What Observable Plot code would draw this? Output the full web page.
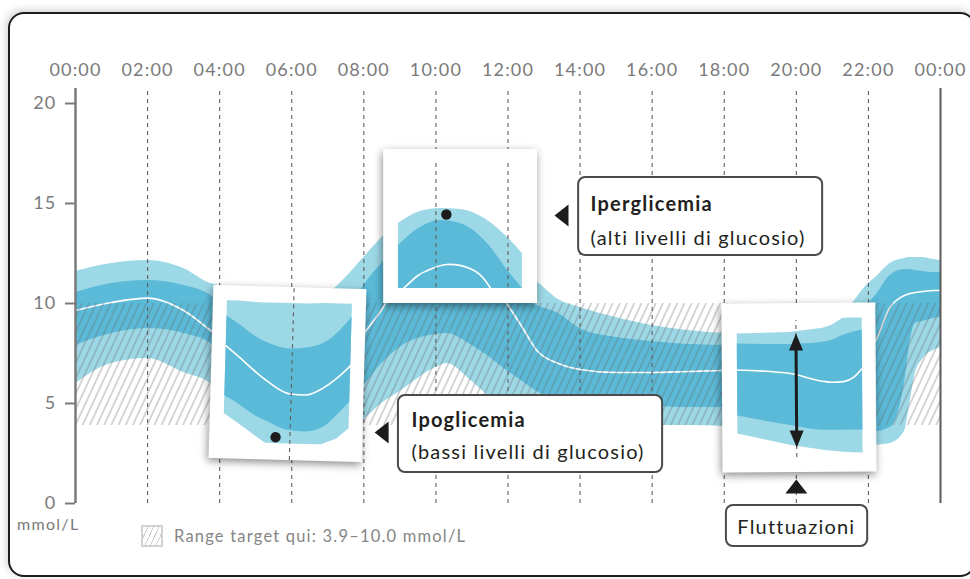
<!DOCTYPE html>
<html>
<head>
<meta charset="utf-8">
<script src="https://cdn.jsdelivr.net/npm/d3@7"></script>
<script src="https://cdn.jsdelivr.net/npm/@observablehq/plot@0.6"></script>
<style>
  html, body { margin: 0; padding: 0; background: #fff; }
  body { width: 970px; height: 579px; position: relative; overflow: hidden; font-family: Lato, "Open Sans", sans-serif; }
  #frame { position: absolute; left: 8px; top: 12px; width: 968px; height: 565px; box-sizing: border-box;
           border: 2.5px solid #1d1d1d; border-radius: 16px; background: #fff;
           box-shadow: -2px -2px 8px rgba(0,0,0,0.18); z-index: 0; }
  #chart { position: absolute; left: 0; top: 0; z-index: 1; }
  #chart svg { display: block; }
  #unit { position: absolute; left: 17px; top: 514px; font-size: 16px; line-height: 20px; color: #7a7a7a; letter-spacing: 1.3px; z-index: 2; }
  #legend { position: absolute; left: 141px; top: 525px; height: 22px; display: flex; align-items: center; gap: 11px;
            color: #858585; font-size: 16.5px; letter-spacing: 1.2px; z-index: 2; }
  #legend .sw { width: 18px; height: 18px; border: 2px solid #d2d2d2;
                background: repeating-linear-gradient(115deg, #fff 0 4px, #cfcfcf 4px 5px); }
</style>
</head>
<body>
<div id="frame"></div>
<div id="chart"></div>
<div id="unit"></div>
<div id="legend"><span class="sw"></span><span id="legend-text"></span></div>
<script>
// ---------- axes ----------
const tickHours = [0, 2, 4, 6, 8, 10, 12, 14, 16, 18, 20, 22, 24];
const tickLabels = ["00:00", "02:00", "04:00", "06:00", "08:00", "10:00", "12:00", "14:00", "16:00", "18:00", "20:00", "22:00", "00:00"];
const gridHours = [2, 4, 6, 8, 10, 12, 14, 16, 18, 20, 22];
const yTicks = [0, 5, 10, 15, 20];
const yUnit = "mmol/L";
const axisTop = 20.75;
const legendLabel = "Range target qui: 3.9–10.0 mmol/L";
const target = [{from: 3.9, to: 10.0, start: 0, end: 24}];

// ---------- glucose profile (percentiles, mmol/L) ----------
const hours = [0, 1, 2, 3, 3.75, 4, 5, 6, 7, 7.5, 8, 8.5, 9, 10, 10.3, 11, 11.5, 12, 12.4, 12.8, 13.4, 14, 15, 16, 17, 18, 19, 20, 21, 21.5, 22, 22.2, 22.6, 23, 23.15, 23.3, 23.5, 23.8, 24];
const p95 = [11.6, 12.0, 12.15, 11.75, 11.0, 10.9, 10.3, 10.0, 10.5, 11.3, 12.3, 13.3, 14.2, 14.8, 14.8, 14.3, 13.4, 12.4, 11.6, 11.1, 10.2, 9.8, 9.3, 8.9, 8.65, 8.5, 8.4, 8.5, 9.2, 9.9, 11.0, 11.3, 12.0, 12.25, 12.3, 12.3, 12.3, 12.2, 12.15];
const p75 = [10.55, 11.0, 11.15, 10.9, 10.4, 10.0, 8.6, 7.9, 8.4, 9.4, 10.9, 12.0, 12.9, 13.5, 13.5, 12.9, 12.0, 11.0, 10.3, 9.9, 9.5, 8.75, 8.3, 8.1, 7.95, 7.9, 7.8, 7.9, 8.3, 9.0, 10.0, 10.4, 11.4, 11.7, 11.7, 11.65, 11.6, 11.55, 11.55];
const p50 = [9.65, 10.05, 10.27, 9.65, 8.65, 8.3, 6.8, 6.0, 6.5, 7.3, 8.5, 9.7, 11.2, 12.4, 12.4, 11.9, 11.0, 9.9, 8.8, 7.65, 7.0, 6.7, 6.55, 6.55, 6.6, 6.65, 6.5, 6.3, 6.3, 6.7, 7.6, 8.15, 9.8, 10.4, 10.5, 10.55, 10.6, 10.65, 10.65];
const p25 = [7.9, 8.5, 8.75, 8.5, 8.0, 7.6, 5.6, 4.5, 4.8, 5.2, 5.9, 7.0, 7.8, 8.45, 8.5, 7.9, 7.3, 6.6, 6.1, 5.6, 5.2, 5.0, 4.9, 4.85, 4.8, 4.8, 4.5, 4.2, 4.0, 3.9, 3.7, 3.6, 3.8, 6.0, 8.0, 9.0, 9.1, 9.25, 9.3];
const p5 = [6.0, 7.0, 7.25, 6.55, 6.0, 5.6, 4.0, 3.2, 3.3, 3.7, 4.2, 5.0, 5.6, 6.8, 7.0, 6.1, 5.3, 4.6, 4.3, 4.1, 4.0, 3.95, 3.9, 3.9, 3.9, 3.85, 3.3, 2.9, 2.7, 2.7, 2.8, 2.9, 3.0, 3.6, 5.0, 6.5, 7.2, 7.65, 7.8];

// ---------- magnified insets ----------
const hypoHours = [4.16, 4.5, 5.04, 5.32, 5.97, 6.4, 6.88, 7.3, 7.63];
const hypoP95 = [10.05, 10.05, 10.0, 10.0, 10.0, 10.0, 10.05, 10.05, 10.05];
const hypoP75 = [9.3, 8.9, 8.23, 8.0, 7.73, 7.8, 8.07, 8.7, 9.4];
const hypoP50 = [7.8, 7.3, 6.48, 6.1, 5.48, 5.45, 5.82, 6.4, 6.98];
const hypoP25 = [5.3, 4.95, 4.32, 4.1, 3.65, 3.6, 3.82, 4.5, 5.15];
const hypoP5 = [4.4, 4.0, 3.33, 2.98, 2.98, 2.98, 2.98, 3.3, 3.82];

const hyperHours = [8.96, 9.57, 10.13, 10.68, 11.43, 11.99, 12.4];
const hyperP95 = [14.0, 14.6, 14.75, 14.7, 14.15, 13.3, 12.5];
const hyperP75 = [12.9, 13.8, 14.15, 14.0, 13.0, 11.65, 10.75];
const hyperFloor = 10.75;
const hyperMedHours = [9.1, 9.5, 9.77, 10.3, 10.94, 11.3, 11.52];
const hyperP50 = [10.75, 11.4, 11.65, 11.95, 11.75, 11.3, 10.75];

const fluttHours = [18.37, 19.84, 20.75, 21.0, 21.31, 21.6, 21.84];
const fluttP95 = [8.5, 8.55, 8.75, 8.9, 9.25, 9.25, 9.25];
const fluttP75 = [8.0, 7.95, 8.05, 8.15, 8.4, 8.55, 8.65];
const fluttP50 = [6.7, 6.5, 6.1, 6.05, 6.08, 6.3, 6.75];
const fluttP25 = [4.4, 3.9, 3.65, 3.65, 3.65, 3.65, 3.65];
const fluttP5 = [3.5, 2.9, 2.65, 2.6, 2.55, 2.52, 2.5];

const insetFrames = [
  {id: "hypo", h1: 3.77, h2: 8.02, v1: 2.15, v2: 10.8, tilt: 1.6},
  {id: "hyper", h1: 8.55, h2: 12.82, v1: 10.0, v2: 17.7, tilt: 0},
  {id: "flutt", h1: 17.95, h2: 22.22, v1: 1.55, v2: 10.0, tilt: -0.4}
];
const insetGrid = [
  {id: "hypo", h: 6, v1: 2.15, v2: 10.8},
  {id: "hyper", h: 10, v1: 10.8, v2: 17.0},
  {id: "hyper", h: 12, v1: 10.8, v2: 17.0},
  {id: "flutt", h: 20, v1: 2.3, v2: 9.15}
];
const extremes = [
  {id: "hypo", h: 5.6, v: 3.3},
  {id: "hyper", h: 10.29, v: 14.45}
];
const spread = {h: 20, top: 8.5, bottom: 2.8};

// ---------- callouts ----------
const callouts = [
  {title: "Iperglicemia", note: "(alti livelli di glucosio)", h1: 13.96, h2: 20.73, v1: 12.4, v2: 16.3, th: 14.29, tv: 14.65, nv: 12.95, ph: 13.29, pv: 14.4, dir: -90},
  {title: "Ipoglicemia", note: "(bassi livelli di glucosio)", h1: 8.96, h2: 16.29, v1: 1.55, v2: 5.4, th: 9.32, tv: 3.82, nv: 2.25, ph: 8.3, pv: 3.55, dir: -90}
];
const fluttCallout = [{label: "Fluttuazioni", h1: 18.06, h2: 21.98, v1: -2.15, v2: -0.1, th: 20.0, tv: -1.5, ph: 20.0, pv: 1.2, dir: 0}];

// ---------- build tables ----------
const profile = hours.map((h, i) => ({h, p5: p5[i], p25: p25[i], p50: p50[i], p75: p75[i], p95: p95[i]}));
const hypo = hypoHours.map((h, i) => ({h, p5: hypoP5[i], p25: hypoP25[i], p50: hypoP50[i], p75: hypoP75[i], p95: hypoP95[i]}));
const hyper = hyperHours.map((h, i) => ({h, lo: hyperFloor, p75: hyperP75[i], p95: hyperP95[i]}));
const hyperMed = hyperMedHours.map((h, i) => ({h, p50: hyperP50[i]}));
const flutt = fluttHours.map((h, i) => ({h, p5: fluttP5[i], p25: fluttP25[i], p50: fluttP50[i], p75: fluttP75[i], p95: fluttP95[i]}));

const light = "#9dd8e6", dark = "#5bbad8", ink = "#1c1c1c", gridC = "#5f5f5f";

// custom triangle symbols: tip at origin, pointing up
const pointer = {draw(ctx) { ctx.moveTo(0, 0); ctx.lineTo(11, 14); ctx.lineTo(-11, 14); ctx.closePath(); }};
const arrowHead = {draw(ctx) { ctx.moveTo(0, 0); ctx.lineTo(7, 17); ctx.lineTo(-7, 17); ctx.closePath(); }};

function insetMarks(id, table, opts) {
  const cls = id + "-part";
  const frame = insetFrames.filter(d => d.id === id);
  const marks = [
    Plot.rect(frame, {x1: "h1", x2: "h2", y1: "v1", y2: "v2", fill: "white", className: id + "-frame"})
  ];
  if (opts.full) {
    marks.push(Plot.areaY(table, {x: "h", y1: "p5", y2: "p95", fill: light, curve: "linear", className: cls}));
    marks.push(Plot.areaY(table, {x: "h", y1: "p25", y2: "p75", fill: dark, curve: "monotone-x", className: cls}));
    marks.push(Plot.lineY(table, {x: "h", y: "p50", stroke: "white", strokeWidth: 1.6, curve: "monotone-x", className: cls}));
  } else {
    marks.push(Plot.areaY(table, {x: "h", y1: "lo", y2: "p95", fill: light, curve: "monotone-x", className: cls}));
    marks.push(Plot.areaY(table, {x: "h", y1: "lo", y2: "p75", fill: dark, curve: "monotone-x", className: cls}));
    marks.push(Plot.lineY(hyperMed, {x: "h", y: "p50", stroke: "white", strokeWidth: 1.6, curve: "natural", className: cls}));
  }
  marks.push(Plot.ruleX(insetGrid.filter(d => d.id === id), {x: "h", y1: "v1", y2: "v2", stroke: gridC, strokeWidth: 1.1, strokeDasharray: "4,4", className: cls}));
  const ex = extremes.filter(d => d.id === id);
  if (ex.length) marks.push(Plot.dot(ex, {x: "h", y: "v", r: 5.2, fill: ink, stroke: "none", className: cls}));
  return marks;
}

const chart = Plot.plot({
  width: 970,
  height: 579,
  marginLeft: 75,
  marginRight: 30,
  marginTop: 103,
  marginBottom: 76,
  x: {domain: [0, 24]},
  y: {domain: [0, 20]},
  style: {background: "transparent", fontFamily: "Lato, 'Open Sans', sans-serif", letterSpacing: "1.2px", overflow: "visible"},
  marks: [
    // main profile
    Plot.areaY(profile, {x: "h", y1: "p5", y2: "p95", fill: light, curve: "monotone-x"}),
    Plot.areaY(profile, {x: "h", y1: "p25", y2: "p75", fill: dark, curve: "monotone-x"}),
    Plot.lineY(profile, {x: "h", y: "p50", stroke: "white", strokeWidth: 1.6, curve: "monotone-x"}),
    // target range hatching
    Plot.rect(target, {x1: "start", x2: "end", y1: "from", y2: "to", fill: "url(#hatch)"}),
    // grid & axes
    Plot.ruleX(gridHours, {y1: () => 0, y2: () => axisTop, stroke: gridC, strokeWidth: 1.1, strokeDasharray: "4,4"}),
    Plot.ruleX([tickHours[0]], {y1: () => 0, y2: () => axisTop, stroke: "#7a7a7a", strokeWidth: 2.5}),
    Plot.ruleX([tickHours[tickHours.length - 1]], {y1: () => 0, y2: () => axisTop, stroke: "#5a5a5a", strokeWidth: 2}),
    Plot.axisY({ticks: yTicks, tickSize: 10, tickPadding: 9, fontSize: 18, color: "#7a7a7a", strokeWidth: 2, tickFormat: d => String(d), label: null}),
    Plot.axisX({anchor: "top", ticks: tickHours, tickSize: 0, tickPadding: 28, fontSize: 18, color: "#7a7a7a",
                tickFormat: d => tickLabels[tickHours.indexOf(d)], label: null}),
    // insets
    ...insetMarks("hypo", hypo, {full: true}),
    ...insetMarks("hyper", hyper, {full: false}),
    ...insetMarks("flutt", flutt, {full: true}),
    // spread arrow inside fluctuation inset
    Plot.ruleX([spread], {x: "h", y1: d => d.top - 0.6, y2: d => d.bottom + 0.6, stroke: ink, strokeWidth: 3, className: "flutt-part"}),
    Plot.dot([spread], {x: "h", y: "top", symbol: arrowHead, fill: ink, stroke: "none", className: "flutt-part"}),
    Plot.dot([spread], {x: "h", y: "bottom", symbol: arrowHead, rotate: 180, fill: ink, stroke: "none", className: "flutt-part"}),
    // callouts
    Plot.rect(callouts, {x1: "h1", x2: "h2", y1: "v1", y2: "v2", fill: "white", stroke: "#4a4a4a", strokeWidth: 2, rx: 7}),
    Plot.rect(fluttCallout, {x1: "h1", x2: "h2", y1: "v1", y2: "v2", fill: "white", stroke: "#4a4a4a", strokeWidth: 2, rx: 7}),
    Plot.dot(callouts, {x: "ph", y: "pv", symbol: pointer, rotate: "dir", fill: ink, stroke: "none"}),
    Plot.dot(fluttCallout, {x: "ph", y: "pv", symbol: pointer, rotate: "dir", fill: ink, stroke: "none"}),
    Plot.text(callouts, {x: "th", y: "tv", text: "title", textAnchor: "start", lineAnchor: "bottom", fontSize: 20, fontWeight: "bold", fill: "#231f20"}),
    Plot.text(callouts, {x: "th", y: "nv", text: "note", textAnchor: "start", lineAnchor: "bottom", fontSize: 20, fill: "#231f20"}),
    Plot.text(fluttCallout, {x: "th", y: "tv", text: "label", textAnchor: "middle", lineAnchor: "bottom", fontSize: 20, fill: "#231f20"})
  ]
});

// hatch pattern
const svgNS = "http://www.w3.org/2000/svg";
const defs = document.createElementNS(svgNS, "defs");
defs.innerHTML = '<pattern id="hatch" patternUnits="userSpaceOnUse" width="6.5" height="12" patternTransform="rotate(25)">' +
  '<line x1="1" y1="0" x2="1" y2="12" stroke="#6a6a6a" stroke-opacity="0.55" stroke-width="1"/></pattern>';
chart.insertBefore(defs, chart.firstChild);

function topGroup(el) {
  while (el.parentNode && el.parentNode !== chart) el = el.parentNode;
  return el;
}
const xs = chart.scale("x"), ys = chart.scale("y");
insetFrames.forEach(f => {
  const els = Array.from(chart.querySelectorAll("." + f.id + "-frame, ." + f.id + "-part"));
  const groups = [];
  els.forEach(el => { const g = topGroup(el); if (g !== chart && !groups.includes(g)) groups.push(g); });
  chart.querySelectorAll("." + f.id + "-frame").forEach(el => {
    topGroup(el).style.filter = "drop-shadow(-1px 3px 4px rgba(0,0,0,0.45))";
  });
  if (groups.length && f.tilt) {
    const wrap = document.createElementNS(svgNS, "g");
    groups[0].parentNode.insertBefore(wrap, groups[0]);
    groups.forEach(g => wrap.appendChild(g));
    const cx = xs.apply((f.h1 + f.h2) / 2), cy = ys.apply((f.v1 + f.v2) / 2);
    wrap.setAttribute("transform", `rotate(${f.tilt} ${cx} ${cy})`);
  }
});

document.getElementById("chart").appendChild(chart);
document.getElementById("unit").textContent = yUnit;
document.getElementById("legend-text").textContent = legendLabel;
</script>
</body>
</html>
